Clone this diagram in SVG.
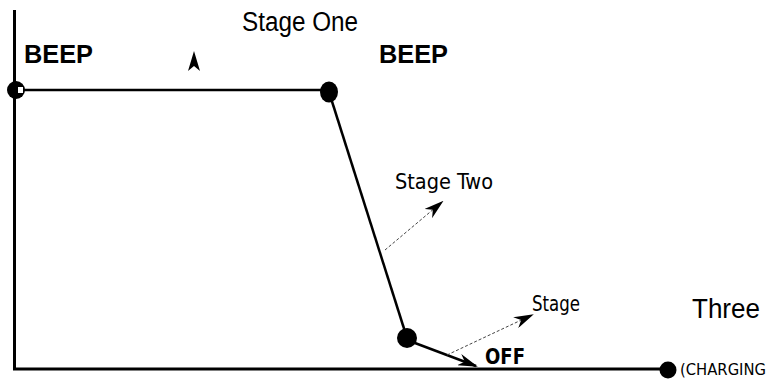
<svg xmlns="http://www.w3.org/2000/svg" width="771" height="383" viewBox="0 0 771 383">
<style>
.ax{stroke:#000;stroke-width:3;fill:none}
.ln{stroke:#000;stroke-width:2.5;fill:none}
.dt{stroke:#444;stroke-width:1;stroke-dasharray:3 2;fill:none}
.dot{fill:#000}
.big{font-family:"Liberation Sans",Arial,sans-serif;font-size:27px;fill:#000}
.beep{font-family:"Liberation Sans",Arial,sans-serif;font-size:25px;font-weight:bold;fill:#000}
.fut{font-family:"DejaVu Sans Condensed","DejaVu Sans",sans-serif;font-size:21px;fill:#000}
.futb{font-family:"DejaVu Sans Condensed","DejaVu Sans",sans-serif;font-size:21px;font-weight:bold;fill:#000}
</style>
<defs>
<marker id="ah" viewBox="0 0 10 10" preserveAspectRatio="none" refX="9" refY="5" markerWidth="20" markerHeight="12" markerUnits="userSpaceOnUse" orient="auto">
<path d="M0,0 L10,5 L0,10 L3,5 Z" fill="#000"/>
</marker>
</defs>
<g id="connectors">
<path class="ax" d="M14.5,10 V369 H662"/>
<path class="ln" d="M16,90 H329"/>
<path class="ln" d="M329,92 L407,338"/>
<path class="ln" d="M407,340 L476,366" marker-end="url(#ah)"/>
<path class="dt" d="M385,250 L442,202" marker-end="url(#ah)"/>
<path class="dt" d="M447,355 L532,315" marker-end="url(#ah)"/>
</g>
<g id="n1"><circle class="dot" cx="16" cy="90" r="9"/><rect x="18" y="87" width="5" height="6" fill="#fff"/></g>
<g id="n2"><ellipse class="dot" cx="329" cy="92" rx="9" ry="10.5"/></g>
<g id="n3"><circle class="dot" cx="407" cy="338" r="10"/></g>
<g id="n4"><circle class="dot" cx="668" cy="370" r="8.5"/></g>
<g id="labels">
<text class="big" x="242" y="31" textLength="116" lengthAdjust="spacingAndGlyphs">Stage One</text>
<text class="beep" x="24" y="63" textLength="69" lengthAdjust="spacingAndGlyphs">BEEP</text>
<text class="beep" x="379" y="63" textLength="69" lengthAdjust="spacingAndGlyphs">BEEP</text>
<path d="M194,51 L200,71 L194,66 L188,71 Z" fill="#000"/>
<text class="fut" x="395" y="189" textLength="98" lengthAdjust="spacingAndGlyphs">Stage Two</text>
<text class="fut" x="532" y="311" textLength="48" lengthAdjust="spacingAndGlyphs">Stage</text>
<text class="big" x="692" y="318" textLength="68" lengthAdjust="spacingAndGlyphs">Three</text>
<text class="futb" x="485" y="364" textLength="40" lengthAdjust="spacingAndGlyphs">OFF</text>
<text class="fut" x="680" y="375" style="font-size:16px" textLength="86" lengthAdjust="spacingAndGlyphs">(CHARGING</text>
</g>
</svg>
